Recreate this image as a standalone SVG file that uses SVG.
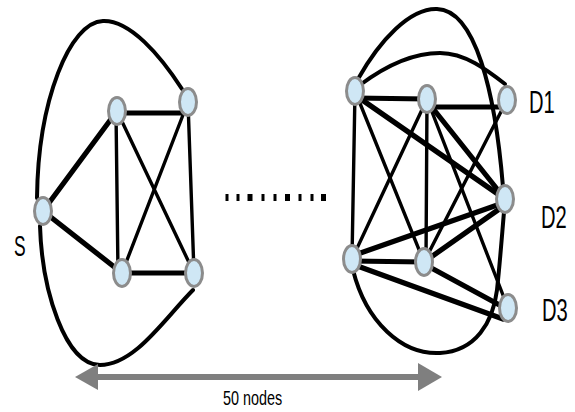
<svg xmlns="http://www.w3.org/2000/svg" width="575" height="412" viewBox="0 0 575 412">
<style>
.e{stroke:#000;fill:none;stroke-linecap:round}
.k{stroke-width:5.2}
.t{stroke-width:3.4}
.c{stroke-width:4}
.n{fill:#cfe7f5;stroke:#8c8c8c;stroke-width:3}
.lbl{font-family:"Liberation Sans",Arial,sans-serif;fill:#000}
.arr{fill:#7f7f7f}
</style>
<rect width="575" height="412" fill="#fff"/>
<g id="connectors">
<path class="e c" d="M182,89 C160,55 130,20 103,21 C70,22 38,100 37,198"/>
<path class="e c" d="M40,226 C42,290 65,365 100,365 C135,365 165,318 193,290"/>
<line class="e k" x1="43" y1="211" x2="117" y2="111"/>
<line class="e k" x1="43" y1="211" x2="122" y2="273"/>
<line class="e k" x1="117" y1="113" x2="188" y2="113"/>
<line class="e k" x1="122" y1="273" x2="194" y2="273"/>
<line class="e t" x1="116" y1="111" x2="118" y2="273"/>
<line class="e t" x1="117" y1="111" x2="194" y2="273"/>
<line class="e t" x1="188" y1="102" x2="122" y2="273"/>
<line class="e t" x1="188" y1="102" x2="194" y2="273"/>
<path class="e c" d="M358,79 C380,40 410,8 437,9 C475,10 495,90 503,187"/>
<path class="e c" d="M360,85 C380,70 410,53 440,53 C465,53 487,70 505,84"/>
<path class="e c" d="M353,270 C366,322 402,355 440,353 C476,351 493,322 497,290 C500,262 502,235 504,212"/>
<line class="e k" x1="355" y1="98" x2="427" y2="99"/>
<line class="e k" x1="427" y1="107" x2="507" y2="107"/>
<line class="e k" x1="355" y1="95" x2="505" y2="199"/>
<line class="e k" x1="427" y1="101" x2="505" y2="199"/>
<line class="e k" x1="352" y1="256" x2="503" y2="203"/>
<line class="e k" x1="424" y1="262" x2="505" y2="205"/>
<line class="e k" x1="352" y1="261" x2="424" y2="262"/>
<line class="e k" x1="352" y1="264" x2="503" y2="319"/>
<line class="e k" x1="424" y1="264" x2="505" y2="308"/>
<line class="e t" x1="355" y1="91" x2="352" y2="259"/>
<line class="e t" x1="355" y1="91" x2="424" y2="262"/>
<line class="e t" x1="427" y1="99" x2="352" y2="259"/>
<line class="e t" x1="427" y1="99" x2="426" y2="262"/>
<line class="e t" x1="427" y1="99" x2="508" y2="308"/>
<line class="e t" x1="507" y1="100" x2="424" y2="262"/>
</g>
<g id="dots" fill="#000">
<rect x="225.5" y="194" width="3" height="7"/>
<rect x="236.5" y="194" width="3" height="7"/>
<rect x="247.5" y="194" width="5" height="7"/>
<rect x="261.5" y="194" width="3" height="7"/>
<rect x="273.5" y="194" width="3" height="7"/>
<rect x="285" y="194" width="5" height="7"/>
<rect x="298.5" y="194" width="3" height="7"/>
<rect x="310.5" y="194" width="3" height="7"/>
<rect x="321" y="194" width="5" height="7"/>
</g>
<g id="node-S"><ellipse class="n" cx="43" cy="211" rx="8.5" ry="13.5"/><text class="lbl" transform="translate(14,256) scale(0.6,1)" font-size="29">S</text></g>
<g id="node-L1"><ellipse class="n" cx="117" cy="111" rx="8.5" ry="13.5"/></g>
<g id="node-L2"><ellipse class="n" cx="188" cy="102" rx="8.5" ry="13.5"/></g>
<g id="node-L3"><ellipse class="n" cx="122" cy="273" rx="8.5" ry="13.5"/></g>
<g id="node-L4"><ellipse class="n" cx="194" cy="273" rx="8.5" ry="13.5"/></g>
<g id="node-R1"><ellipse class="n" cx="355" cy="91" rx="8.5" ry="13.5"/></g>
<g id="node-R2"><ellipse class="n" cx="427" cy="99" rx="8.5" ry="13.5"/></g>
<g id="node-R3"><ellipse class="n" cx="352" cy="259" rx="8.5" ry="13.5"/></g>
<g id="node-R4"><ellipse class="n" cx="424" cy="262" rx="8.5" ry="13.5"/></g>
<g id="node-D1"><ellipse class="n" cx="507" cy="100" rx="8.5" ry="13.5"/><text class="lbl" transform="translate(529,113) scale(0.65,1)" font-size="31">D1</text></g>
<g id="node-D2"><ellipse class="n" cx="505" cy="199" rx="8.5" ry="13.5"/><text class="lbl" transform="translate(541,228) scale(0.65,1)" font-size="31">D2</text></g>
<g id="node-D3"><ellipse class="n" cx="508" cy="308" rx="8.5" ry="13.5"/><text class="lbl" transform="translate(542,321) scale(0.65,1)" font-size="31">D3</text></g>
<g id="span-arrow">
<line x1="95" y1="377" x2="422" y2="377" stroke="#7f7f7f" stroke-width="6"/>
<polygon class="arr" points="75,377 98,364 98,390"/>
<polygon class="arr" points="442,377 418,363 418,391"/>
<text class="lbl" transform="translate(223,405) scale(0.72,1)" font-size="20">50 nodes</text>
</g>
</svg>
